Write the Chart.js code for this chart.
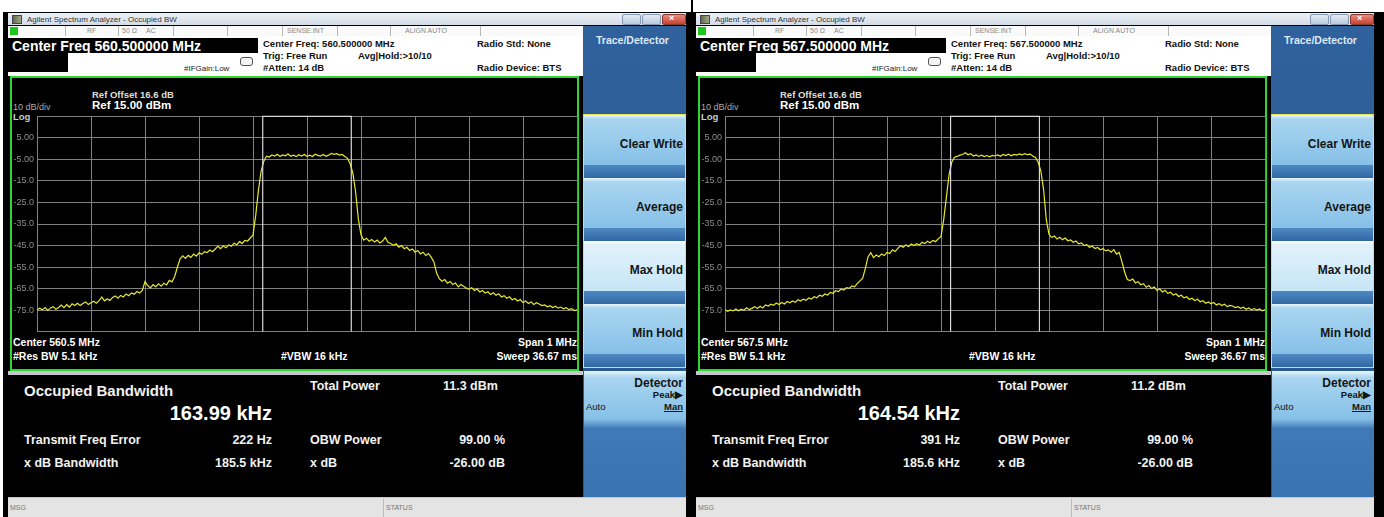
<!DOCTYPE html>
<html>
<head>
<meta charset="utf-8">
<script src="https://cdn.jsdelivr.net/npm/chart.js@4.4.1/dist/chart.umd.min.js"></script>
<style>
body { margin:0; width:1384px; height:517px; background:#fff; overflow:hidden; position:relative;
       font-family:"Liberation Sans", Arial, sans-serif; }
.abs { position:absolute; white-space:nowrap; }
</style>
</head>
<body>
<div class="abs" style="left:3px;top:12px;width:1381px;height:505px;background:#000"></div>
<div class="abs" style="left:691px;top:0;width:2px;height:517px;background:#000"></div>
<script>
// sweep points (kHz from centre)
const sweepKHz = [
  -500,-495,-490,-485,-480,-475,-470,-465,-460,-455,
  -450,-445,-440,-435,-430,-425,-420,-415,-410,-405,
  -400,-395,-390,-385,-380,-375,-370,-365,-360,-355,
  -350,-345,-340,-335,-330,-325,-320,-315,-310,-305,
  -300,-295,-290,-285,-280,-275,-270,-265,-260,-255,
  -250,-245,-240,-235,-230,-225,-220,-215,-210,-205,
  -200,-195,-190,-185,-180,-175,-170,-165,-160,-155,
  -150,-145,-140,-135,-130,-125,-120,-115,-110,-105,
  -100,-95,-90,-85,-80,-75,-70,-65,-60,-55,
  -50,-45,-40,-35,-30,-25,-20,-15,-10,-5,
  0,5,10,15,20,25,30,35,40,45,
  50,55,60,65,70,75,80,85,90,95,
  100,105,110,115,120,125,130,135,140,145,
  150,155,160,165,170,175,180,185,190,195,
  200,205,210,215,220,225,230,235,240,245,
  250,255,260,265,270,275,280,285,290,295,
  300,305,310,315,320,325,330,335,340,345,
  350,355,360,365,370,375,380,385,390,395,
  400,405,410,415,420,425,430,435,440,445,
  450,455,460,465,470,475,480,485,490,495,
  500
];
// trace levels, dBm (560.5 MHz)
const traceLeft = [
  -75.0,-74.1,-74.9,-73.8,-75.2,-74.0,-73.4,-74.6,-73.8,-72.7,
  -73.9,-72.5,-73.6,-72.1,-72.9,-71.8,-72.9,-71.9,-71.2,-72.4,
  -71.6,-70.9,-71.8,-70.6,-68.9,-70.7,-69.8,-70.5,-69.1,-68.4,
  -69.5,-68.2,-68.9,-67.5,-68.3,-67.0,-67.6,-66.4,-67.1,-65.9,
  -61.8,-63.6,-64.7,-63.2,-64.1,-62.8,-63.9,-62.5,-63.3,-61.2,
  -61.9,-59.4,-55.0,-51.2,-49.8,-51.0,-49.6,-50.5,-49.0,-49.9,
  -48.4,-49.1,-47.9,-48.3,-47.1,-47.9,-46.6,-45.4,-46.5,-45.2,
  -46.0,-44.7,-45.3,-43.9,-44.6,-43.2,-44.0,-42.6,-42.9,-41.5,
  -40.2,-31.0,-19.5,-10.5,-5.8,-3.5,-3.9,-2.9,-3.4,-2.6,
  -3.6,-2.9,-3.3,-2.5,-3.5,-3.0,-3.7,-2.8,-3.4,-2.7,
  -3.5,-3.0,-3.6,-2.6,-3.1,-3.4,-2.7,-3.5,-3.0,-2.2,
  -2.6,-2.3,-3.0,-2.7,-3.6,-4.5,-7.0,-11.5,-20.0,-32.5,
  -40.0,-42.5,-41.6,-43.0,-42.2,-43.4,-42.5,-43.8,-42.9,-41.2,
  -43.5,-44.1,-44.9,-44.2,-45.8,-45.0,-46.5,-45.8,-47.3,-46.6,
  -48.1,-47.3,-48.9,-48.1,-49.6,-48.7,-50.4,-52.6,-57.8,-60.4,
  -61.6,-60.8,-62.5,-61.7,-63.1,-62.4,-64.2,-63.1,-63.9,-64.8,
  -65.3,-64.6,-65.9,-65.2,-66.6,-65.9,-67.1,-66.5,-67.8,-67.0,
  -68.1,-67.4,-68.9,-68.3,-69.5,-68.8,-70.2,-69.6,-70.8,-70.1,
  -71.5,-70.8,-71.9,-71.2,-72.4,-71.6,-72.2,-72.9,-72.6,-73.5,
  -73.0,-73.8,-73.2,-74.1,-73.6,-74.4,-73.9,-74.8,-74.3,-75.2,
  -74.9
];
// trace levels, dBm (567.5 MHz)
const traceRight = [
  -74.8,-75.6,-74.9,-75.4,-74.5,-75.3,-74.6,-75.1,-73.9,-74.8,
  -74.2,-73.4,-74.3,-73.2,-74.0,-72.6,-73.1,-72.3,-72.8,-71.7,
  -72.4,-71.5,-72.2,-71.0,-71.6,-70.8,-71.4,-70.2,-70.8,-69.9,
  -70.5,-69.4,-69.9,-68.8,-69.3,-68.1,-68.6,-67.5,-68.0,-66.8,
  -67.2,-66.0,-66.4,-65.2,-65.7,-64.6,-64.9,-63.8,-64.2,-62.6,
  -61.4,-60.2,-55.5,-50.2,-48.3,-50.6,-49.4,-50.2,-48.9,-49.6,
  -48.2,-48.7,-47.0,-47.8,-46.3,-45.1,-45.8,-44.7,-45.5,-44.3,
  -45.0,-44.2,-44.8,-43.5,-44.1,-43.0,-43.7,-42.6,-43.2,-41.8,
  -40.9,-33.0,-22.5,-12.0,-6.2,-4.0,-3.6,-3.0,-2.7,-1.9,
  -2.8,-2.3,-3.4,-2.9,-3.6,-3.0,-3.7,-3.2,-3.8,-3.1,
  -3.4,-2.9,-3.5,-2.7,-3.2,-2.6,-3.3,-2.7,-3.0,-2.4,
  -2.9,-2.3,-2.8,-2.5,-3.4,-4.1,-6.3,-10.5,-19.0,-33.0,
  -39.8,-41.3,-40.6,-42.0,-41.2,-42.3,-41.5,-42.8,-42.4,-43.5,
  -42.9,-44.2,-43.8,-45.0,-44.6,-45.8,-45.3,-46.4,-45.9,-47.0,
  -46.5,-47.5,-47.0,-48.1,-46.9,-49.0,-48.2,-52.5,-57.3,-60.8,
  -61.3,-60.6,-62.4,-61.8,-63.2,-62.7,-64.4,-63.6,-65.0,-64.3,
  -65.9,-65.1,-66.6,-65.8,-67.2,-66.7,-68.0,-67.4,-68.7,-68.1,
  -69.3,-68.8,-70.1,-69.5,-70.6,-70.0,-71.1,-70.6,-71.8,-71.2,
  -72.1,-71.5,-72.6,-72.0,-72.9,-72.3,-73.4,-72.8,-73.1,-73.8,
  -73.4,-74.2,-73.7,-74.6,-74.0,-74.9,-74.3,-75.0,-74.5,-75.3,
  -74.8
];
const yTickLabels = ["5.00","-5.00","-15.0","-25.0","-35.0","-45.0","-55.0","-65.0","-75.0"];
const refLevel = 15, dbPerDiv = 10, spanKHz = 1000;

const centerFreqMHz = ["560.500000", "567.500000"];
const centerShortMHz = ["560.5", "567.5"];
const occupiedBwKHz = [163.99, 164.54];
const totalPowerDBm = ["11.3", "11.2"];
const freqErrorHz = ["222", "391"];
const xdbBwKHz = ["185.5", "185.6"];
const obwPower = "99.00 %";
const xdbValue = "-26.00 dB";
const softKeys = ["Clear Write", "Average", "Max Hold", "Min Hold"];

function el(parent, css, text) {
  const d = document.createElement('div');
  d.className = 'abs';
  d.style.cssText = css;
  if (text != null) d.textContent = text;
  parent.appendChild(d);
  return d;
}
function label(parent, text, x, cy, size, color, weight, right) {
  const d = el(parent, `left:${x}px;top:${cy - size * 0.6}px;font-size:${size}px;line-height:${size * 1.2}px;color:${color};font-weight:${weight || 'normal'}`, text);
  if (right) d.style.transform = 'translateX(-100%)';
  return d;
}

function buildPanel(i, trace) {
  const p = el(document.body, `left:${i * 688}px;top:0;width:688px;height:517px`);

  // window title bar
  el(p, 'left:8px;top:13px;width:678px;height:12px;background:linear-gradient(#eef2f7,#d2dbe6)');
  el(p, 'left:12px;top:15px;width:8px;height:7px;background:linear-gradient(90deg,#5d6b4a,#a3a88a);border:1px solid #445');
  label(p, 'Agilent Spectrum Analyzer - Occupied BW', 27, 19.5, 8, '#333');
  el(p, 'left:622px;top:14px;width:17px;height:9px;background:linear-gradient(#e3ebf4,#b9cbe0);border:1px solid #8499b3;border-radius:2px');
  el(p, 'left:642px;top:14px;width:17px;height:9px;background:linear-gradient(#e3ebf4,#b9cbe0);border:1px solid #8499b3;border-radius:2px');
  el(p, 'left:662px;top:14px;width:22px;height:9px;background:linear-gradient(#e88a7c,#c8402f);border:1px solid #8a3a30;border-radius:2px');
  label(p, '×', 669, 18.5, 9, '#fff', 'bold');

  // status row
  el(p, 'left:8px;top:26px;width:575px;height:10px;background:#fafafa');
  el(p, 'left:10px;top:27px;width:8px;height:8px;background:#1fc81f');
  [65, 118, 173, 227, 282, 337, 390, 480].forEach(x => el(p, `left:${x}px;top:26px;width:1px;height:10px;background:#b8b8b8`));
  label(p, 'RF', 87, 31, 7, '#888');
  label(p, '50 Ω', 122, 31, 7, '#888');
  label(p, 'AC', 146, 31, 7, '#888');
  label(p, 'SENSE:INT', 287, 31, 7, '#888');
  label(p, 'ALIGN AUTO', 405, 31, 7, '#888');

  // header
  el(p, 'left:8px;top:36px;width:575px;height:40px;background:#fff');
  el(p, 'left:8px;top:38px;width:250px;height:15px;background:#000');
  el(p, 'left:8px;top:53px;width:60px;height:19px;background:#000');
  label(p, 'Center Freq ' + centerFreqMHz[i] + ' MHz', 12, 46, 14, '#fff', 'bold');
  label(p, '#IFGain:Low', 184, 69, 8, '#222');
  el(p, 'left:240px;top:57px;width:11px;height:7px;border:1px solid #555;border-radius:3px;background:#f4f4f4');
  label(p, 'Center Freq: ' + centerFreqMHz[i] + ' MHz', 263, 44, 9.5, '#111', 'bold');
  label(p, 'Trig: Free Run', 263, 56, 9.5, '#111', 'bold');
  label(p, 'Avg|Hold:>10/10', 358, 56, 9.5, '#111', 'bold');
  label(p, '#Atten: 14 dB', 263, 68, 9.5, '#111', 'bold');
  label(p, 'Radio Std: None', 477, 44, 9.5, '#111', 'bold');
  label(p, 'Radio Device: BTS', 477, 68, 9.5, '#111', 'bold');

  // plot frame
  el(p, 'left:10px;top:76px;width:569px;height:295px;border:2px solid #2fd62f;box-sizing:border-box;background:#000');
  label(p, 'Ref Offset 16.6 dB', 92, 95, 9.5, '#ddd', 'bold');
  label(p, 'Ref ' + refLevel.toFixed(2) + ' dBm', 92, 105.5, 11.5, '#fff', 'bold');
  label(p, dbPerDiv + ' dB/div', 13, 107, 9, '#a8a8a8');
  label(p, 'Log', 13, 117, 9.5, '#ccc', 'bold');
  label(p, 'Center  ' + centerShortMHz[i] + ' MHz', 13, 342, 10.5, '#fff', 'bold');
  label(p, '#Res BW  5.1 kHz', 13, 356, 10.5, '#fff', 'bold');
  label(p, '#VBW  16 kHz', 281, 356, 10.5, '#fff', 'bold');
  label(p, 'Span ' + spanKHz / 1000 + ' MHz', 577, 342, 10.5, '#fff', 'bold', true);
  label(p, 'Sweep  36.67 ms', 577, 356, 10.5, '#fff', 'bold', true);

  // results
  el(p, 'left:8px;top:371px;width:575px;height:4px;background:#c4c8cc');
  el(p, 'left:8px;top:375px;width:575px;height:122px;background:#000');
  el(p, 'left:8px;top:497px;width:678px;height:20px;background:#e4e4e4;border-top:1px solid #c8c8c8');
  label(p, 'MSG', 10, 508, 7, '#777');
  el(p, 'left:383px;top:499px;width:1px;height:18px;background:#bbb');
  label(p, 'STATUS', 386, 508, 7, '#777');

  label(p, 'Occupied Bandwidth', 24, 391, 15, '#f2f2f2', 'bold');
  label(p, occupiedBwKHz[i].toFixed(2) + ' kHz', 272, 413, 20, '#fff', 'bold', true);
  label(p, 'Total Power', 310, 386, 12.5, '#f2f2f2', 'bold');
  label(p, totalPowerDBm[i] + ' dBm', 443, 386, 12.5, '#f2f2f2', 'bold');
  label(p, 'Transmit Freq Error', 24, 440, 12.5, '#f2f2f2', 'bold');
  label(p, freqErrorHz[i] + ' Hz', 272, 440, 12.5, '#f2f2f2', 'bold', true);
  label(p, 'OBW Power', 310, 440, 12.5, '#f2f2f2', 'bold');
  label(p, obwPower, 505, 440, 12.5, '#f2f2f2', 'bold', true);
  label(p, 'x dB Bandwidth', 24, 463, 12.5, '#f2f2f2', 'bold');
  label(p, xdbBwKHz[i] + ' kHz', 272, 463, 12.5, '#f2f2f2', 'bold', true);
  label(p, 'x dB', 310, 463, 12.5, '#f2f2f2', 'bold');
  label(p, xdbValue, 505, 463, 12.5, '#f2f2f2', 'bold', true);

  // soft key panel
  el(p, 'left:583px;top:26px;width:103px;height:471px;background:linear-gradient(#2f619c,#29588f)');
  label(p, 'Trace/Detector', 596, 40, 10.5, '#dce9f7', 'bold');
  softKeys.forEach((name, k) => {
    const top = 115 + k * 63;
    const sel = name === 'Max Hold';
    el(p, `left:584px;top:${top}px;width:102px;height:50px;background:` +
      (sel ? 'linear-gradient(#ffffff 0,#e2f2fb 6%,#c6e5f6 100%)' : 'linear-gradient(#eaf6fd 0,#a9d5f0 8%,#86c0e7 100%)'));
    el(p, `left:584px;top:${top + 50}px;width:102px;height:13px;background:linear-gradient(#4f8ac3,#2f67a3)`);
    label(p, name, 683, top + 29, 12, '#151515', 'bold', true);
  });
  el(p, 'left:583px;top:114px;width:103px;height:254px;border:1.5px solid #e4e45c;box-sizing:border-box');
  el(p, 'left:584px;top:371px;width:102px;height:126px;background:linear-gradient(#eaf6fd 0,#a9d5f0 5%,#86c0e7 38%,#3f79b6 46%,#3a74b0 100%)');
  label(p, 'Detector', 683, 383, 12, '#151515', 'bold', true);
  label(p, 'Peak▶', 683, 395, 9.5, '#151515', 'bold', true);
  label(p, 'Auto', 586, 407, 9.5, '#151515');
  const man = label(p, 'Man', 683, 407, 9.5, '#151515', 'bold', true);
  man.style.textDecoration = 'underline';

  // plot canvas
  const cv = document.createElement('canvas');
  cv.width = 567; cv.height = 232;
  cv.style.cssText = 'position:absolute;left:11px;top:108px;width:567px;height:232px';
  p.appendChild(cv);

  const points = sweepKHz.map((f, k) => ({ x: f, y: trace[k] }));
  const half = occupiedBwKHz[i] / 2;
  const yMin = refLevel - 10 * dbPerDiv;
  const markers = [{ x: -half, y: yMin }, { x: -half, y: refLevel }, { x: half, y: refLevel }, { x: half, y: yMin }];
  const gridColor = '#808080';

  new Chart(cv, {
    type: 'line',
    data: {
      datasets: [
        { data: markers, borderColor: '#d8d8d8', borderWidth: 1.2, pointRadius: 0, clip: 2 },
        { data: points, borderColor: '#e8e82c', borderWidth: 1.2, pointRadius: 0, tension: 0 }
      ]
    },
    options: {
      responsive: false,
      animation: false,
      layout: { padding: { top: 6, bottom: 6, left: 0, right: 1 } },
      plugins: { legend: { display: false }, tooltip: { enabled: false } },
      scales: {
        x: {
          type: 'linear', min: -spanKHz / 2, max: spanKHz / 2,
          ticks: { display: false, stepSize: 100 },
          grid: { color: gridColor, drawTicks: false },
          border: { color: gridColor }
        },
        y: {
          min: yMin, max: refLevel,
          afterFit: s => { s.width = 26; },
          ticks: {
            stepSize: dbPerDiv, padding: 3, color: '#8e8e8e',
            font: { family: 'Liberation Sans', size: 9 },
            callback: v => yTickLabels[(refLevel - v) / dbPerDiv - 1] || ''
          },
          grid: { color: gridColor, drawTicks: false },
          border: { color: gridColor }
        }
      }
    }
  });
}

buildPanel(0, traceLeft);
buildPanel(1, traceRight);
</script>
</body>
</html>
